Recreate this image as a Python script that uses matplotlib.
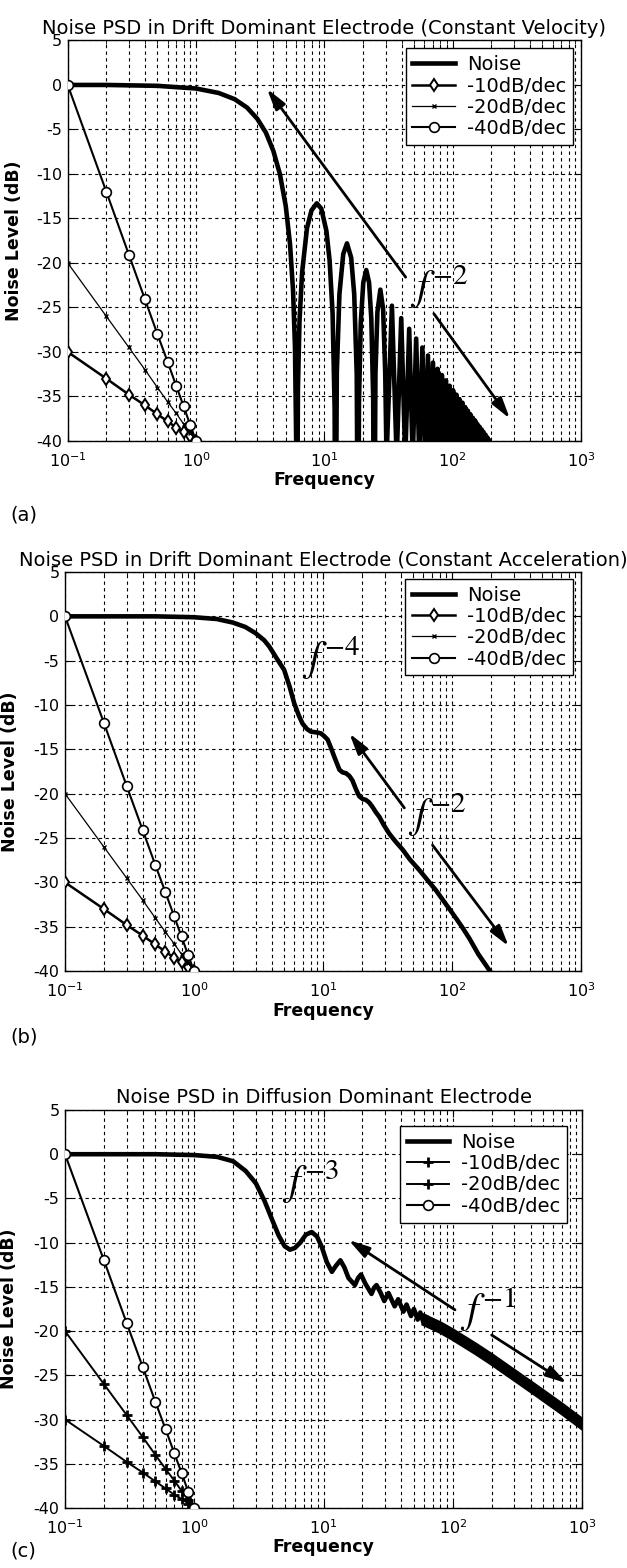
import matplotlib
matplotlib.use('Agg')
import matplotlib.pyplot as plt
from matplotlib.ticker import LogLocator, NullFormatter

plt.rcParams['font.family'] = ['DejaVu Sans']
plt.rcParams['axes.unicode_minus'] = False

# reference slopes (same in all three panels)
ref_f = [0.1, 0.2, 0.3, 0.4, 0.5, 0.6, 0.7, 0.8, 0.9, 1.0]
ref_10 = [-30.0, -33.0, -34.8, -36.0, -37.0, -37.8, -38.5, -39.0, -39.5, -40.0]
ref_20 = [-20.0, -26.0, -29.5, -32.0, -34.0, -35.6, -36.9, -38.1, -39.1, -40.0]
ref_40 = [0.0, -12.0, -19.1, -24.1, -28.0, -31.1, -33.8, -36.1, -38.2, -40.0]
ref_labels = ['-10dB/dec', '-20dB/dec', '-40dB/dec']

# (a) constant velocity noise
noise_a_f = [0.1, 0.2, 0.5, 1.0, 1.5, 2.0, 2.5, 3.0, 3.5, 4.0, 4.5, 5.0, 5.4, 5.7, 5.9, 6.05, 6.1,
             6.22, 6.4, 6.71, 7.32, 7.93, 8.72, 9.46, 10.37, 10.98, 11.59, 12.02, 12.2,
             12.5, 13.1, 14.03, 15.0, 16.17, 17.08, 17.87, 18.3,
             18.6, 19.2, 20.1, 21.2, 22.3, 23.2, 24.0, 24.4,
             25.0, 25.9, 27.3, 28.7, 29.8, 30.5,
             33.6, 36.6, 39.7, 42.7, 45.8, 48.8, 51.9, 54.9, 58.0, 61.0,
             64.1, 67.1, 70.2, 73.2, 76.3, 79.3, 82.4, 85.4, 88.5, 91.5,
             94.6, 97.6, 100.7, 103.7, 106.8, 109.8, 112.9, 115.9, 119.0, 122.0,
             125.1, 128.1, 131.2, 134.2, 137.3, 140.3, 143.4, 146.4, 149.5, 152.5,
             155.6, 158.6, 161.7, 164.7, 167.8, 170.8, 173.9, 176.9, 180.0, 183.0,
             186.1, 189.1, 192.2, 195.2, 198.3, 201.3]
noise_a_db = [0.0, 0.0, -0.1, -0.4, -0.9, -1.6, -2.55, -3.8, -5.35, -7.4, -10.0, -13.6, -17.9, -23.1, -29.4, -41.7, -60,
              -34.2, -26.5, -21.0, -16.1, -14.1, -13.3, -13.9, -16.4, -19.7, -25.7, -36.4, -60,
              -32.3, -23.5, -19.0, -17.8, -19.4, -23.5, -32.5, -60,
              -35.7, -26.8, -22.2, -20.8, -22.2, -26.2, -35.1, -60,
              -32.4, -25.5, -23.0, -25.2, -32.4, -42,
              -24.8, -42, -26.2, -42, -27.4, -42, -28.5, -42, -29.5, -42,
              -30.4, -42, -31.2, -42, -31.9, -42, -32.6, -42, -33.2, -42,
              -33.8, -42, -34.3, -42, -34.8, -42, -35.3, -42, -35.7, -42,
              -36.2, -42, -36.6, -42, -37.0, -42, -37.4, -42, -37.7, -42,
              -38.1, -42, -38.4, -42, -38.7, -42, -39.0, -42, -39.3, -42,
              -39.6, -42, -39.9, -42, -40.2, -42]

# (b) constant acceleration noise
noise_b_f = [0.1, 0.5, 1.0, 1.5, 2.0, 2.5, 3.0, 3.5, 3.83, 4.4, 5.0, 5.5, 5.98, 6.5, 6.94, 7.5,
             8.05, 9.0, 9.63, 10.2, 10.85, 11.5, 12.2, 13.4, 14.2, 15.1, 16.0, 16.9, 18.0,
             19.1, 20.3, 21.5, 22.8, 24.2, 25.7, 27.3, 29.5, 32.6, 36.5, 41.4, 47.0, 55.7,
             65.0, 75.1, 87.0, 101.0, 118.0, 136.0, 160.0, 194.6, 210.0]
noise_b_db = [0.0, 0.0, -0.1, -0.3, -0.7, -1.2, -1.9, -2.7, -3.4, -4.8, -6.05, -7.9, -9.8, -11.2, -12.1, -12.7,
              -13.0, -13.1, -13.2, -13.5, -13.9, -14.8, -15.8, -17.3, -17.6, -17.7, -18.0, -18.5, -19.5,
              -20.3, -20.6, -20.7, -21.0, -21.5, -22.1, -22.6, -23.5, -24.5, -25.4, -26.3, -27.4, -28.6,
              -29.8, -30.9, -32.2, -33.5, -34.9, -36.3, -38.1, -39.9, -40.6]

# (c) diffusion dominant noise: wiggles, then a dense band
noise_c_f = [0.1, 0.5, 1.0, 1.5, 2.0, 2.5, 3.0, 3.5, 4.0, 4.5, 5.0, 5.5, 6.0, 6.6, 7.3, 8.1, 8.9,
             9.7, 10.6, 11.6, 12.5, 13.5, 14.5, 15.6, 17.5, 18.5, 19.5, 21.0, 23.5, 24.6, 25.7,
             27.5, 29.5, 31.8, 35.5, 37.8, 41.5, 43.9, 47.5, 50.0, 53.5, 56.0, 59.5, 62.0]
noise_c_db = [0.0, 0.0, -0.1, -0.3, -0.8, -1.9, -3.3, -5.3, -7.4, -9.2, -10.4, -10.8, -10.6, -10.0, -9.1, -8.8, -9.3,
              -10.5, -12.2, -13.3, -12.6, -12.0, -12.8, -14.0, -14.8, -14.0, -13.6, -14.6, -15.8, -15.1, -14.8,
              -15.6, -16.6, -15.7, -17.2, -16.4, -17.8, -17.0, -18.3, -17.5, -18.7, -17.9, -19.1, -18.4]
band_c_f = [60, 80, 100, 150, 200, 300, 450, 700, 1000]
band_c_hi = [-18.3, -19.15, -19.95, -21.55, -22.75, -24.55, -26.35, -28.35, -30.05]
band_c_lo = [-19.2, -20.05, -20.85, -22.45, -23.65, -25.45, -27.25, -29.25, -30.95]

titles = ['Noise PSD in Drift Dominant Electrode (Constant Velocity)',
          'Noise PSD in Drift Dominant Electrode (Constant Acceleration)',
          'Noise PSD in Diffusion Dominant Electrode']

fig = plt.figure(figsize=(6.27, 15.68), dpi=100)
ax_a = fig.add_axes([0.108, 0.7188, 0.8187, 0.2554])
ax_b = fig.add_axes([0.1037, 0.3807, 0.823, 0.2545])
ax_c = fig.add_axes([0.1037, 0.0383, 0.8246, 0.2538])
axes = [ax_a, ax_b, ax_c]

noise_lw = 3.3
for ax, f, db in [(ax_a, noise_a_f, noise_a_db), (ax_b, noise_b_f, noise_b_db), (ax_c, noise_c_f, noise_c_db)]:
    ax.plot(f, db, color='k', lw=noise_lw, solid_joinstyle='round', label='Noise', zorder=3)

ax_c.fill_between(band_c_f, band_c_lo, band_c_hi, color='k', lw=0, zorder=3)
ax_c.plot(band_c_f, band_c_hi, color='k', lw=noise_lw, zorder=3)
ax_c.plot(band_c_f, band_c_lo, color='k', lw=noise_lw, zorder=3)

for ax in [ax_a, ax_b]:
    ax.plot(ref_f, ref_10, color='k', lw=1.8, marker='d', ms=6.5, mfc='white', mew=1.4, label=ref_labels[0], zorder=4)
    ax.plot(ref_f, ref_20, color='k', lw=0.9, marker='x', ms=3, mew=1.0, label=ref_labels[1], zorder=4)
    ax.plot(ref_f, ref_40, color='k', lw=1.5, marker='o', ms=7, mfc='white', mew=1.2, label=ref_labels[2], zorder=4)

ax_c.plot(ref_f, ref_10, color='k', lw=1.4, marker='+', ms=7, mew=2.0, label=ref_labels[0], zorder=4)
ax_c.plot(ref_f, ref_20, color='k', lw=1.4, marker='+', ms=7, mew=2.0, label=ref_labels[1], zorder=4)
ax_c.plot(ref_f, ref_40, color='k', lw=1.5, marker='o', ms=7, mfc='white', mew=1.2, label=ref_labels[2], zorder=4)

ylabel_x = [-0.0875, -0.09, -0.09]
legend_anchor = [(0.984, 0.980), (0.984, 0.983), (0.971, 0.960)]
for i, ax in enumerate(axes):
    ax.set_xscale('log')
    ax.set_xlim(0.1, 1000)
    ax.set_ylim(-40, 5)
    ax.set_xticks([0.1, 1, 10, 100, 1000])
    ax.xaxis.set_minor_locator(LogLocator(base=10, subs=range(2, 10)))
    ax.xaxis.set_minor_formatter(NullFormatter())
    ax.set_yticks(range(-40, 6, 5))
    ax.xaxis.grid(True, which='both', color='k', ls=(0, (3, 3)), lw=0.8)
    ax.yaxis.grid(True, which='major', color='k', ls=(0, (3, 3)), lw=0.8)
    ax.set_axisbelow(True)
    ax.tick_params(which='both', direction='in', top=True, right=True, labelsize=11.5)
    ax.tick_params(which='major', length=5)
    ax.tick_params(which='minor', length=3)
    ax.tick_params(axis='x', which='major', pad=7.5)
    ax.tick_params(axis='y', which='major', pad=4)
    for s in ax.spines.values():
        s.set_linewidth(1.0)
    ax.set_title(titles[i], fontsize=14, pad=5)
    ax.set_xlabel('Frequency', fontsize=12.5, fontweight='bold', labelpad=1)
    ax.set_ylabel('Noise Level (dB)', fontsize=12.5, fontweight='bold')
    ax.yaxis.set_label_coords(ylabel_x[i], 0.5)
    leg = ax.legend(loc='upper right', bbox_to_anchor=legend_anchor[i], fontsize=14, frameon=True,
                    fancybox=False, framealpha=1, edgecolor='k', borderpad=0.35, labelspacing=0.12,
                    handlelength=2.2, handletextpad=0.6, borderaxespad=0)
    leg.get_frame().set_linewidth(1.0)
    leg.set_zorder(10)

arrow = dict(arrowstyle='-|>,head_length=0.9,head_width=0.25', color='k', lw=2, shrinkA=0, shrinkB=0, mutation_scale=14)
txt = dict(fontsize=30, math_fontfamily='stix', ha='left', va='center', zorder=6)

ax_a.annotate('', xy=(3.57, -0.43), xytext=(43, -21.6), arrowprops=arrow)
ax_a.annotate('', xy=(279, -37.5), xytext=(71.3, -25.7), arrowprops=arrow)
ax_a.text(46.6, -22.7, r'$f^{-2}$', **txt)

ax_b.annotate('', xy=(16.0, -13.2), xytext=(42.7, -21.6), arrowprops=arrow)
ax_b.annotate('', xy=(275, -37.2), xytext=(70.6, -25.8), arrowprops=arrow)
ax_b.text(6.93, -4.7, r'$f^{-4}$', **txt)
ax_b.text(45.3, -22.4, r'$f^{-2}$', **txt)

ax_c.annotate('', xy=(15.6, -9.7), xytext=(104, -17.6), arrowprops=arrow)
ax_c.annotate('', xy=(762, -25.9), xytext=(200, -20.45), arrowprops=arrow)
ax_c.text(4.75, -3.2, r'$f^{-3}$', **txt)
ax_c.text(113.8, -17.6, r'$f^{-1}$', **txt)

fig.text(10 / 627, 1 - 515 / 1568, '(a)', fontsize=14, va='center', ha='left')
fig.text(10 / 627, 1 - 1037 / 1568, '(b)', fontsize=14, va='center', ha='left')
fig.text(10 / 627, 1 - 1551 / 1568, '(c)', fontsize=14, va='center', ha='left')

fig.savefig('out.png', dpi=100)
